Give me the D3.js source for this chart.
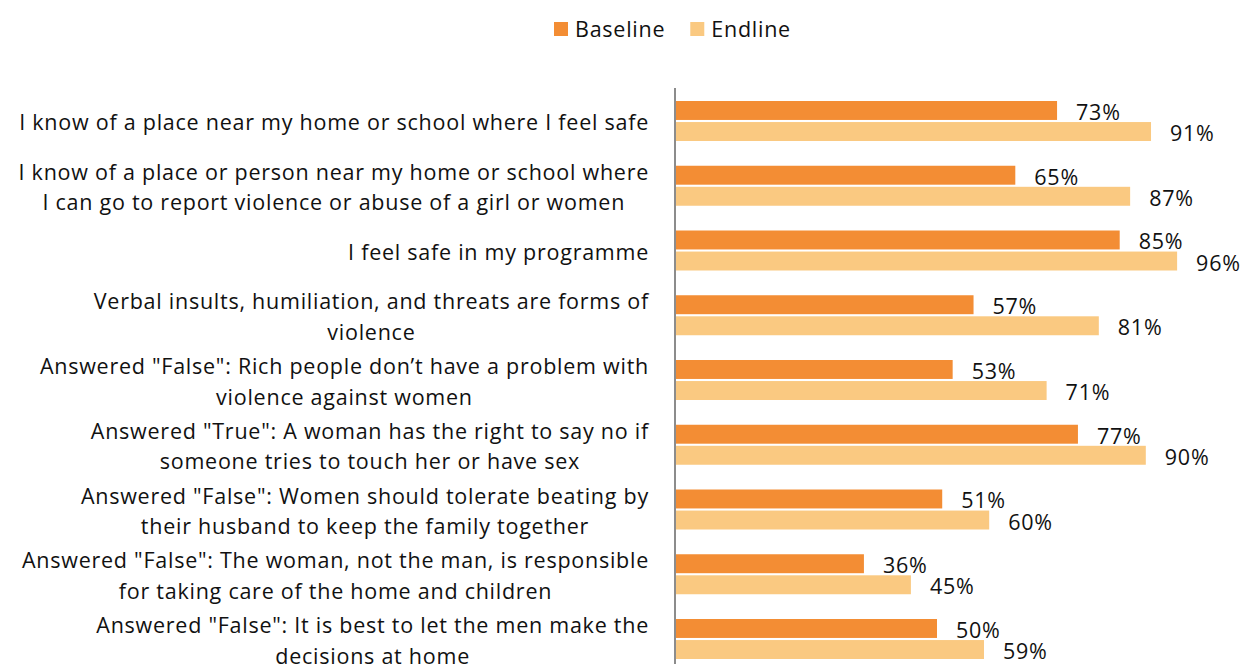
<!DOCTYPE html>
<html>
<head>
<meta charset="utf-8">
<script src="https://cdn.jsdelivr.net/npm/d3@7"></script>
<style>
  body { margin: 0; background: #fff; }
  text { font-family: "Open Sans", Lato, sans-serif; fill: #111; letter-spacing: 0.75px; }
</style>
</head>
<body>
<div class="graph"></div>
<script>
// categories, one array of wrapped lines per bar group
const categories = [
    ["I know of a place near my home or school where I feel safe"],
    ["I know of a place or person near my home or school where", "I can go to report violence or abuse of a girl or women"],
    ["I feel safe in my programme"],
    ["Verbal insults, humiliation, and threats are forms of", "violence"],
    ["Answered \"False\": Rich people don\u2019t have a problem with", "violence against women"],
    ["Answered \"True\": A woman has the right to say no if", "someone tries to touch her or have sex"],
    ["Answered \"False\": Women should tolerate beating by", "their husband to keep the family together"],
    ["Answered \"False\": The woman, not the man, is responsible", "for taking care of the home and children"],
    ["Answered \"False\": It is best to let the men make the", "decisions at home"]
];
const seriesNames = ["Baseline", "Endline"];
const baseline = [73, 65, 85, 57, 53, 77, 51, 36, 50];
const endline = [91, 87, 96, 81, 71, 90, 60, 45, 59];

var width = 1242,
    height = 664;

var colors = { Baseline: '#F38D34', Endline: '#FAC981' };

var svg = d3.select('.graph').append('svg')
    .attr('width', width)
    .attr('height', height);

var x = d3.scaleLinear()
    .domain([0, 100])
    .range([676, 1198]);

var y = d3.scaleBand()
    .domain(d3.range(categories.length))
    .range([88.5, 88.5 + 64.75 * categories.length]);

var inner = d3.scaleBand()
    .domain(seriesNames)
    .range([12.5, 52.5])
    .paddingInner(0.1);

var rows = categories.map(function (c, i) {
    return { i: i, lines: c, values: [baseline[i], endline[i]] };
});

// bars
var groups = svg.append('g').selectAll('g')
    .data(rows)
    .join('g')
    .attr('transform', function (d) { return 'translate(0,' + y(d.i) + ')'; });

groups.selectAll('rect')
    .data(function (d) { return d.values.map(function (v, k) { return { name: seriesNames[k], v: v }; }); })
    .join('rect')
    .attr('x', x(0))
    .attr('y', function (d) { return inner(d.name); })
    .attr('width', function (d) { return x(d.v) - x(0); })
    .attr('height', inner.bandwidth())
    .attr('fill', function (d) { return colors[d.name]; });

groups.selectAll('text.val')
    .data(function (d) { return d.values.map(function (v, k) { return { name: seriesNames[k], v: v }; }); })
    .join('text')
    .attr('class', 'val')
    .attr('x', function (d) { return x(d.v) + 19; })
    .attr('y', function (d) { return inner(d.name) + inner.bandwidth() / 2 + 2; })
    .attr('dy', '0.35em')
    .style('font-size', '21.5px')
    .text(function (d) { return d.v + '%'; });

// category labels: block right aligned, lines centred within the block
var labelRight = 649,
    lineH = 30.5;

var labels = svg.append('g').selectAll('text')
    .data(rows)
    .join('text')
    .style('font-size', '21.5px')
    .attr('text-anchor', 'middle');

labels.each(function (d) {
    var t = d3.select(this);
    var n = d.lines.length;
    var cy = y(d.i) + y.bandwidth() / 2 + 2;
    t.selectAll('tspan')
        .data(d.lines)
        .join('tspan')
        .attr('y', function (l, k) { return cy + (k - (n - 1) / 2) * lineH; })
        .attr('dy', '0.35em')
        .text(function (l) { return l; });
    var w = 0;
    t.selectAll('tspan').each(function () { w = Math.max(w, this.getComputedTextLength()); });
    t.selectAll('tspan').attr('x', labelRight - w / 2);
});

// vertical axis line
svg.append('line')
    .attr('x1', x(0) - 1).attr('x2', x(0) - 1)
    .attr('y1', 88).attr('y2', height)
    .attr('stroke', '#8C8C8C')
    .attr('stroke-width', 2);

// legend
var legend = svg.append('g').attr('transform', 'translate(554,0)');
var lx = 0;
seriesNames.forEach(function (name) {
    var g = legend.append('g').attr('transform', 'translate(' + lx + ',0)');
    g.append('rect')
        .attr('x', 0).attr('y', 22)
        .attr('width', 14).attr('height', 14)
        .attr('fill', colors[name]);
    var t = g.append('text')
        .attr('x', 21).attr('y', 29)
        .attr('dy', '0.35em')
        .style('font-size', '21.5px')
        .text(name);
    lx += 21 + t.node().getComputedTextLength() + 25;
});
</script>
</body>
</html>
